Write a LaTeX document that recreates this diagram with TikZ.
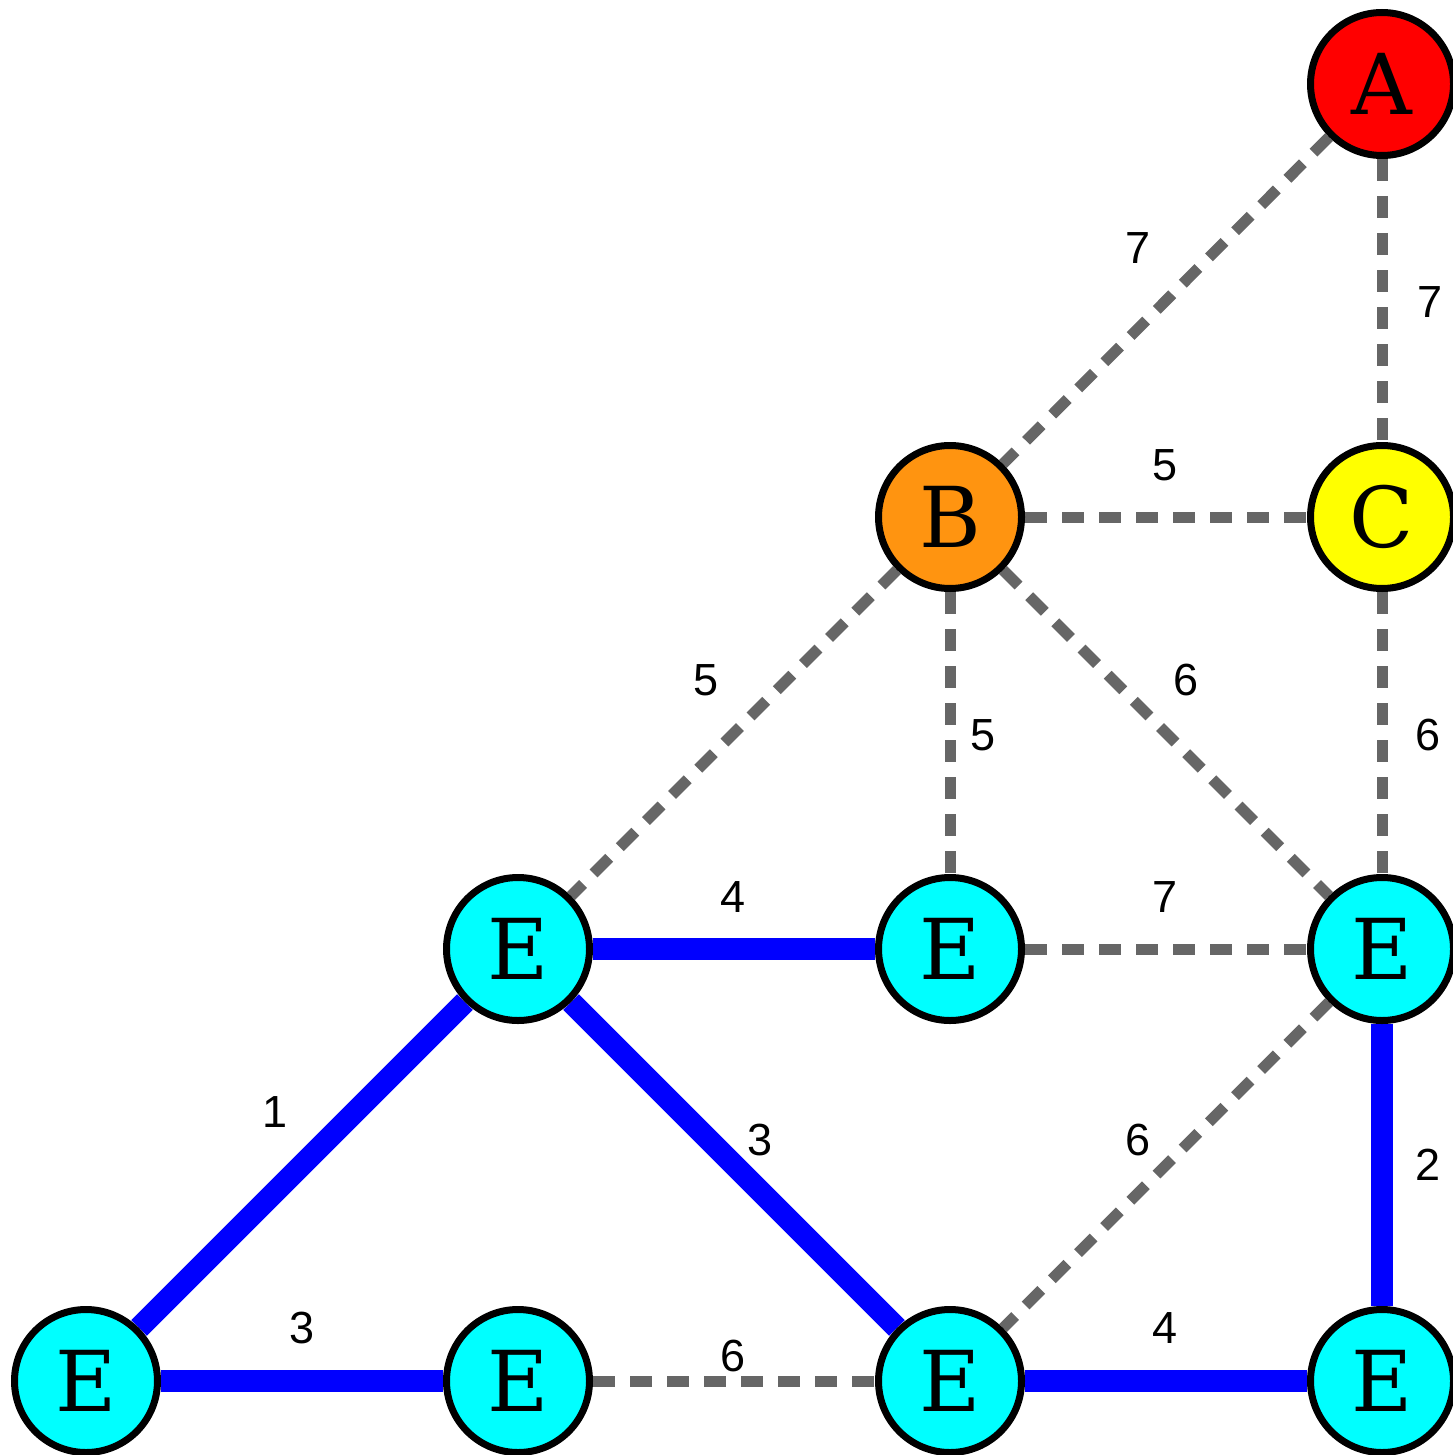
\documentclass[tikz,border=0pt]{standalone}
\usepackage{fontspec}
\usetikzlibrary{backgrounds}
\newfontfamily\nodefont{DejaVu Serif}
\newfontfamily\lblfont{Liberation Sans}
\definecolor{cA}{HTML}{FF0000}
\definecolor{cB}{HTML}{FF9410}
\definecolor{cC}{HTML}{FFFF00}
\definecolor{cE}{HTML}{00FFFF}
\definecolor{gedge}{HTML}{666666}
\definecolor{bedge}{HTML}{0000FF}
\tikzset{
  vert/.style={circle, draw=black, line width=3.5pt, minimum size=71.5pt, inner sep=0pt, font=\nodefont\fontsize{42}{42}\selectfont},
  gray edge/.style={draw=gedge, line width=5.5pt, dash pattern=on 11pt off 7.5pt},
  blue edge/.style={draw=bedge, line width=11pt},
  lbl/.style={font=\lblfont\fontsize{22.5}{22.5}\selectfont, inner sep=0pt}
}
\begin{document}
\begin{tikzpicture}[x=0.5pt,y=-0.5pt]
\useasboundingbox (0,0) rectangle (1452,1455);
\node[vert, fill=cA] (A) at (1382,84) {A};
\node[vert, fill=cB] (B) at (950,517) {B};
\node[vert, fill=cC] (C) at (1382,517) {C};
\node[vert, fill=cE] (e21) at (518,949) {E};
\node[vert, fill=cE] (e22) at (950,949) {E};
\node[vert, fill=cE] (e23) at (1382,949) {E};
\node[vert, fill=cE] (e31) at (86,1381) {E};
\node[vert, fill=cE] (e32) at (518,1381) {E};
\node[vert, fill=cE] (e33) at (950,1381) {E};
\node[vert, fill=cE] (e34) at (1382,1381) {E};
\begin{scope}[on background layer]
\draw[gray edge] (A) -- (B);
\draw[gray edge] (A) -- (C);
\draw[gray edge] (B) -- (C);
\draw[gray edge] (B) -- (e21);
\draw[gray edge] (B) -- (e22);
\draw[gray edge] (B) -- (e23);
\draw[gray edge] (C) -- (e23);
\draw[gray edge] (e22) -- (e23);
\draw[gray edge] (e23) -- (e33);
\draw[gray edge] (e32) -- (e33);
\draw[blue edge] (e21) -- (e22);
\draw[blue edge] (e21) -- (e31);
\draw[blue edge] (e21) -- (e33);
\draw[blue edge] (e23) -- (e34);
\draw[blue edge] (e31) -- (e32);
\draw[blue edge] (e33) -- (e34);
\end{scope}
\node[lbl] (l1) at (1138,248) {7};
\node[lbl] (l2) at (1430,302) {7};
\node[lbl] (l3) at (1165,465) {5};
\node[lbl] (l4) at (706,680) {5};
\node[lbl] (l5) at (983,735) {5};
\node[lbl] (l6) at (1186,680) {6};
\node[lbl] (l7) at (1428,735) {6};
\node[lbl] (l8) at (733,897) {4};
\node[lbl] (l9) at (1165,897) {7};
\node[lbl] (l10) at (275,1112) {1};
\node[lbl] (l11) at (760,1140) {3};
\node[lbl] (l12) at (1138,1140) {6};
\node[lbl] (l13) at (1428,1165) {2};
\node[lbl] (l14) at (302,1328) {3};
\node[lbl] (l15) at (733,1356) {6};
\node[lbl] (l16) at (1165,1328) {4};
\end{tikzpicture}
\end{document}
